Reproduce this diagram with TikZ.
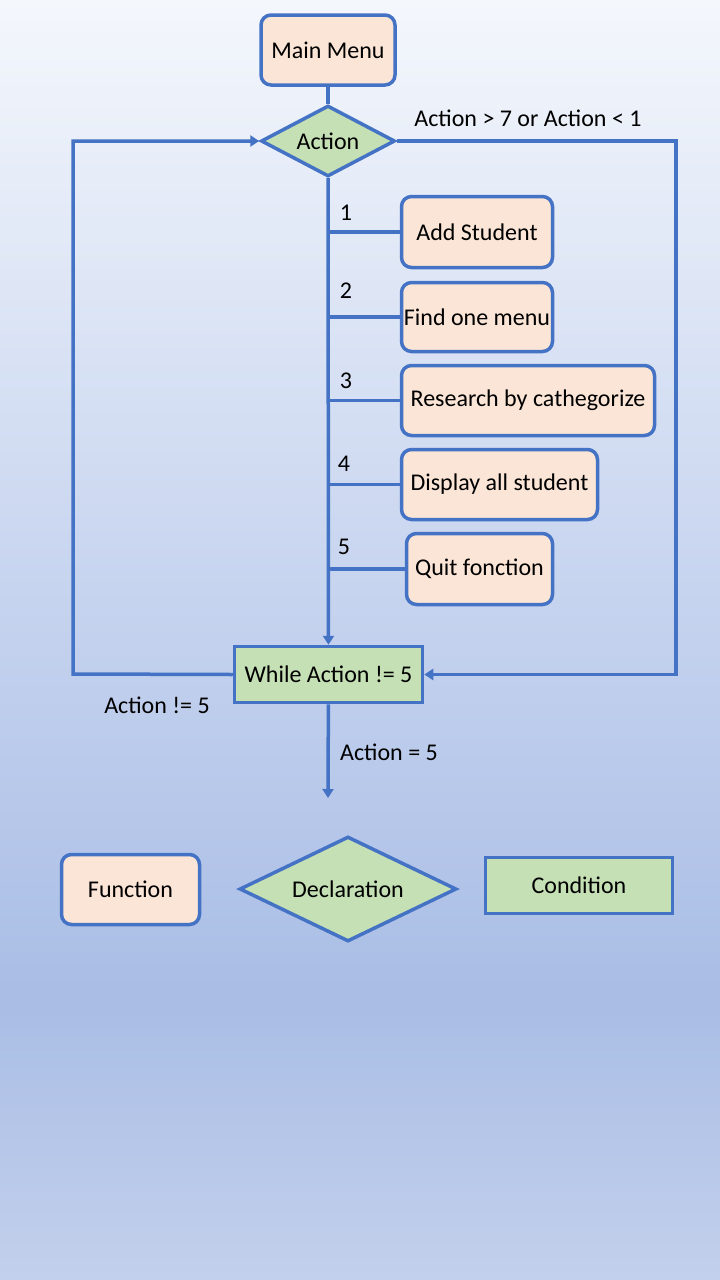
\documentclass[tikz,border=0pt]{standalone}
\usepackage{xcolor}
\usepackage{fontspec}
\setmainfont{Carlito}
\usepackage{tikz}
\usetikzlibrary{shapes.geometric, arrows.meta}

\definecolor{edgeblue}{HTML}{4472C4}
\definecolor{peach}{HTML}{FBE5D6}
\definecolor{leaf}{HTML}{C5E0B4}
\definecolor{bgtop}{HTML}{F4F7FC}
\definecolor{bgmid}{HTML}{C3D1EE}
\definecolor{bglow}{HTML}{A9BDE5}
\definecolor{bgbottom}{HTML}{C3D0EC}

\pgfdeclareverticalshading{bgfade}{100bp}{color(0bp)=(bgbottom); color(25bp)=(bgbottom); color(36bp)=(bglow); color(50bp)=(bgmid); color(75bp)=(bgtop); color(100bp)=(bgtop)}

\begin{document}
\begin{tikzpicture}[
    x=1pt, y=-1pt,
    font=\fontsize{24}{29}\selectfont,
    func/.style={
        rectangle,
        rounded corners=10pt,
        draw=edgeblue,
        line width=3.5pt,
        fill=peach,
        inner sep=0pt,
        text centered
    },
    decl/.style={
        diamond,
        draw=edgeblue,
        line width=3.5pt,
        fill=leaf,
        inner sep=0pt,
        aspect=1.9
    },
    cond/.style={
        rectangle,
        draw=edgeblue,
        line width=3.5pt,
        fill=leaf,
        inner sep=0pt
    },
    link/.style={
        draw=edgeblue,
        line width=3.5pt
    },
    flow/.style={
        link,
        -{Triangle[width=11pt,length=9pt]}
    },
    lbl/.style={
        inner sep=0pt
    }
]

% background
\useasboundingbox (0,0) rectangle (720,1280);
\shade[shading=bgfade] (0,0) rectangle (720,1280);

% main flow
\node[func, minimum width=134pt, minimum height=70pt] (menu) at (328,50) {Main Menu};
\node[decl, minimum width=134pt, minimum height=71pt] (action) at (328,141) {Action};
\node[cond, minimum width=188pt, minimum height=56pt] (loop) at (328.5,674.5) {While Action != 5};

% menu choices
\node[func, minimum width=151pt, minimum height=71pt] (add) at (477,232) {Add Student};
\node[func, minimum width=151pt, minimum height=69pt] (find) at (477,317) {Find one menu};
\node[func, minimum width=253pt, minimum height=70pt] (research) at (528,400.5) {Research by cathegorize};
\node[func, minimum width=196pt, minimum height=70pt] (display) at (499.5,484.5) {Display all student};
\node[func, minimum width=146pt, minimum height=71pt] (quit) at (479.5,569) {Quit fonction};

\node[lbl] (n1) at (346,213) {1};
\node[lbl] (n2) at (346,291) {2};
\node[lbl] (n3) at (346,381) {3};
\node[lbl] (n4) at (344,464) {4};
\node[lbl] (n5) at (344,547) {5};

\draw[link] (menu) -- (action);
\draw[flow] (action) -- (loop);
\foreach \opt in {add, find, research, display, quit}
    \draw[link] (\opt.west -| action.south) -- (\opt.west);

% loops back
\coordinate (rturn) at (676,141);
\coordinate (lturn) at (73,674);
\coordinate (exit) at (328,798);
\draw[flow] (action.east) -- (rturn) |- (loop.east);
\draw[flow] (loop.west) -- (lturn) |- (action.west);
\draw[flow] (loop) -- (exit);

\node[lbl] (outside) at (528,118) {Action > 7 or Action < 1};
\node[lbl] (again) at (157,705) {Action != 5};
\node[lbl] (leave) at (389,752) {Action = 5};

% legend
\node[func, minimum width=138pt, minimum height=70pt] (kfunc) at (130.5,889.5) {Function};
\node[decl, minimum width=217pt, minimum height=105pt, aspect=2.07] (kdecl) at (348,889) {Declaration};
\node[cond, minimum width=187pt, minimum height=56pt] (kcond) at (579,885.5) {Condition};

\end{tikzpicture}
\end{document}
